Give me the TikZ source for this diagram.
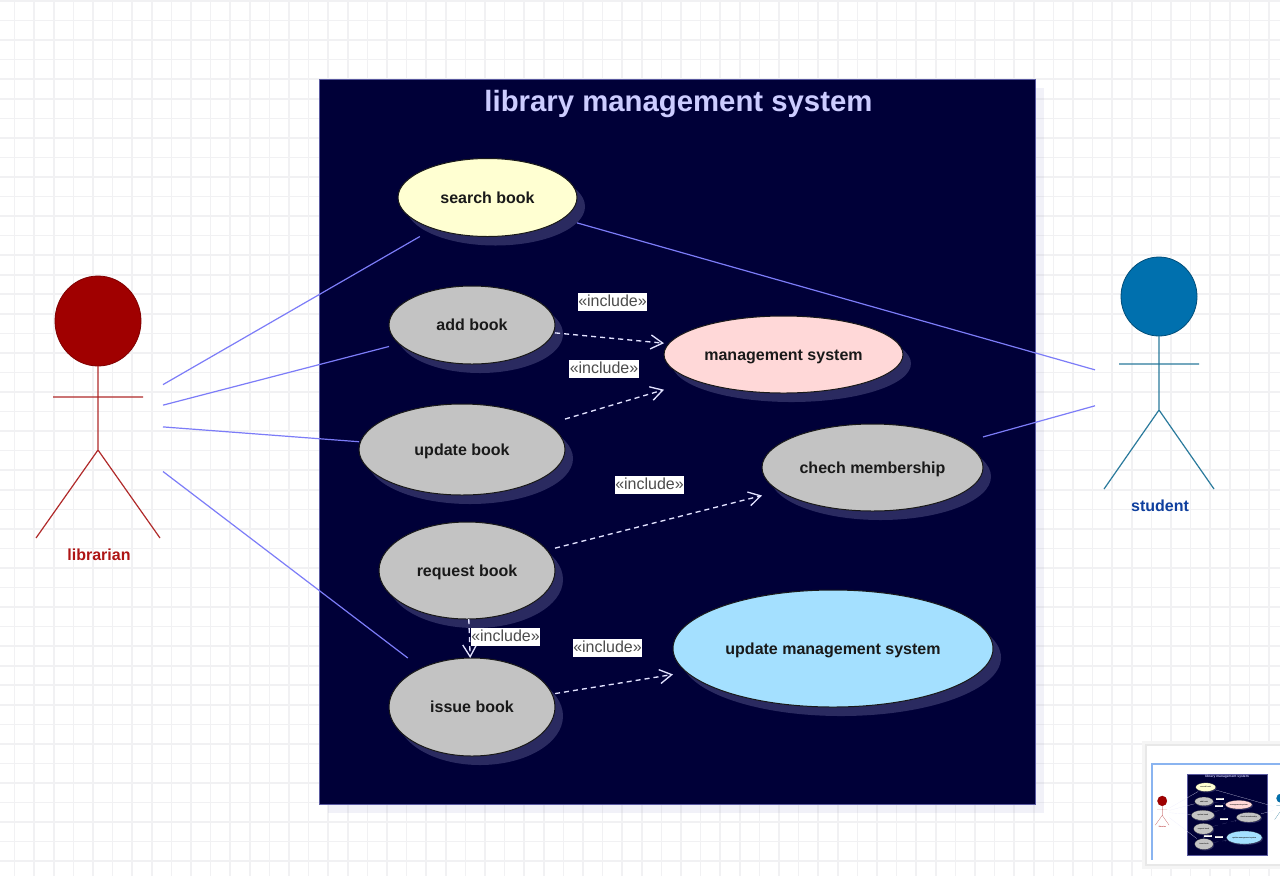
\documentclass[tikz,border=0pt]{standalone}
\usepackage{fontspec}
\setmainfont{Liberation Sans}
\usetikzlibrary{arrows.meta,shapes.geometric,shadows}
\definecolor{gridc}{HTML}{F1F1F3}
\definecolor{navy}{HTML}{000038}
\definecolor{framec}{HTML}{5A5AA0}
\definecolor{shadowc}{HTML}{2A2A60}
\definecolor{assocc}{HTML}{7C7CF8}
\definecolor{depc}{HTML}{E2E2FF}
\definecolor{titlec}{HTML}{CCCCFF}
\definecolor{ucyellow}{HTML}{FFFFD2}
\definecolor{ucgrey}{HTML}{C3C3C3}
\definecolor{ucpink}{HTML}{FFD8D8}
\definecolor{ucblue}{HTML}{A4E0FF}
\definecolor{libred}{HTML}{A00000}
\definecolor{libline}{HTML}{B02A2A}
\definecolor{libtext}{HTML}{AE1515}
\definecolor{stublue}{HTML}{0070AE}
\definecolor{stuline}{HTML}{2A7A9C}
\definecolor{stutext}{HTML}{0F3F9E}
\definecolor{miniframe}{HTML}{8AB4F0}
\tikzset{
  ucell/.style={ellipse,draw=black!90,line width=\ulw*.75pt,inner sep=0pt,outer sep=0pt,
    font=\fontsize{12}{14}\selectfont\bfseries,text=black!90,text height=8.6pt,text depth=0pt,
    drop shadow={shadow xshift=\usx,shadow yshift=\usy,fill=shadowc,opacity=1}},
  ucbox/.style={rectangle,inner sep=0pt,outer sep=0pt},
  assoc/.style={draw=assocc,line width=\ulw*.9pt},
  dep/.style={draw=depc,line width=\ulw*1pt,dash pattern=on 3.8pt off 3pt,
    -{Straight Barb[length=\ual,width=\uaw]}},
  inclabel/.style={fill=white,text=black!70,inner xsep=.4pt,inner ysep=1.2pt,
    font=\fontsize{12}{14}\selectfont,text height=8.8pt,text depth=1.8pt},
  frametitle/.style={font=\fontsize{22}{26}\selectfont\bfseries,text=titlec,inner sep=0pt,text height=16pt,text depth=0pt},
  libstick/.style={draw=libline,line width=\ulw*.9pt},
  stustick/.style={draw=stuline,line width=\ulw*.9pt},
  actorlabel/.style={font=\fontsize{12}{14}\selectfont\bfseries,inner sep=0pt},
  actorport/.style={rectangle,inner sep=0pt,outer sep=0pt},
  headshape/.style={ellipse,inner sep=0pt,outer sep=0pt}
}
\newcommand\uccase[7]{%
  \node[ucbox,minimum width={2*#4*.75pt},minimum height={2*#5*.75pt}] (#1box) at (#2,#3) {};
  \node[ucell,fill=#6,minimum width={2*#4*.75pt},minimum height={2*#5*.75pt}] (#1) at (#2,#3) {#7};
}
\newcommand\ustudent{student}
\newcommand\ucdiagram{%
  \fill[blue!30!gray,opacity=.08] (328,88) rectangle (1044,813);
  \node[rectangle,draw=framec,fill=navy,line width=\ulw*.7pt,inner sep=0pt,outer sep=0pt,
    minimum width={716*.75pt},minimum height={725*.75pt}] (boundary) at (677.6,442.2) {};
  \node[frametitle] (title) at (678.5,101) {library management system};
  \uccase{search}{487.5}{197.5}{89.5}{39}{ucyellow}{search book}
  \uccase{add}{472}{325}{83}{39}{ucgrey}{add book}
  \uccase{update}{462}{449.5}{103}{45.5}{ucgrey}{update book}
  \uccase{request}{467}{570.5}{88}{48.5}{ucgrey}{request book}
  \uccase{issue}{472}{707}{83}{49}{ucgrey}{issue book}
  \uccase{mgmt}{783.5}{354.5}{119.5}{38.5}{ucpink}{management system}
  \uccase{chech}{872.5}{467.5}{110.5}{43.5}{ucgrey}{chech membership}
  \uccase{updmgmt}{833}{648.5}{160}{58.5}{ucblue}{update management system}
  \node[headshape,fill=libred,draw=libred!80!black,line width=\ulw*.6pt,minimum width={86*.75pt},minimum height={90*.75pt}] (libhead) at (98,321) {};
  \coordinate (libhip) at (98,450);
  \coordinate (libarmL) at (53,397);
  \coordinate (libarmR) at (143,397);
  \coordinate (libfootL) at (36,538);
  \coordinate (libfootR) at (160,538);
  \draw[libstick] (libhead.south) -- (libhip) -- (libfootL) (libhip) -- (libfootR) (libarmL) -- (libarmR);
  \node[actorlabel,text=libtext] (liblabel) at (99,554.5) {librarian};
  \node[actorport,minimum width={130*.75pt},minimum height={262*.75pt}] (librarian) at (98,422) {};
  \node[headshape,fill=stublue,draw=stublue!70!black,line width=\ulw*.6pt,minimum width={76*.75pt},minimum height={79*.75pt}] (stuhead) at (1159,296.5) {};
  \coordinate (stuhip) at (1159,410);
  \coordinate (stuarmL) at (1119,364);
  \coordinate (stuarmR) at (1199,364);
  \coordinate (stufootL) at (1104,489);
  \coordinate (stufootR) at (1214,489);
  \draw[stustick] (stuhead.south) -- (stuhip) -- (stufootL) (stuhip) -- (stufootR) (stuarmL) -- (stuarmR);
  \node[actorlabel,text=stutext] (stulabel) at (1160,505.5) {\ustudent};
  \node[actorport,minimum width={128*.75pt},minimum height={250*.75pt}] (student) at (1159,388) {};
  \draw[assoc] (librarian) -- (searchbox);
  \draw[assoc] (librarian) -- (addbox);
  \draw[assoc] (librarian) -- (updatebox);
  \draw[assoc] (librarian) -- (issuebox);
  \draw[assoc] (student) -- (searchbox);
  \draw[assoc] (student) -- (chechbox);
  \draw[dep] (addbox) -- (mgmtbox);
  \draw[dep] (updatebox) -- (mgmtbox);
  \draw[dep] (requestbox) -- (chechbox);
  \draw[dep] (requestbox) -- (issuebox);
  \draw[dep] (issuebox) -- (updmgmtbox);
  \node[inclabel] (l1) at (612.5,302) {«include»};
  \node[inclabel] (l2) at (604,369) {«include»};
  \node[inclabel] (l3) at (649.5,485) {«include»};
  \node[inclabel] (l4) at (505.5,637) {«include»};
  \node[inclabel] (l5) at (607.5,648) {«include»};
}
\begin{document}
\begin{tikzpicture}[x=.75pt,y=-.75pt]
  \useasboundingbox (0,0) rectangle (1280,876);
  \fill[white] (0,0) rectangle (1280,876);
  \foreach \k in {0,...,65} {
    \draw[gridc,line width=1.2pt] ({14.5+19.6*\k},0) -- ({14.5+19.6*\k},876);
  }
  \foreach \k in {0,...,44} {
    \draw[gridc,line width=1.2pt] (0,{1+19.55*\k}) -- (1280,{1+19.55*\k});
  }
  \def\ulw{1}\def\ual{9pt}\def\uaw{10.5pt}\def\usx{6pt}\def\usy{-6.75pt}
  \ucdiagram
  \fill[black!4] (1142,741) rectangle (1280,869);
  \fill[black!9] (1145,744) rectangle (1280,866);
  \fill[white] (1147,746) rectangle (1280,864);
  \draw[miniframe,line width=.9pt] (1280,764) -- (1152,764) -- (1152,860);
  \begin{scope}
    \clip (1147,746) rectangle (1280,864);
    \def\ulw{.12}\def\ual{1pt}\def\uaw{1.2pt}\def\usx{.67pt}\def\usy{-.75pt}
    \renewcommand\ustudent{}
    \colorlet{assocc}{assocc!15!white}
    \colorlet{depc}{depc!35!navy}
    \begin{scope}[shift={(1151.25,765.06)},scale=.1117,transform shape,name prefix=mini-]
      \ucdiagram
    \end{scope}
  \end{scope}
\end{tikzpicture}
\end{document}
